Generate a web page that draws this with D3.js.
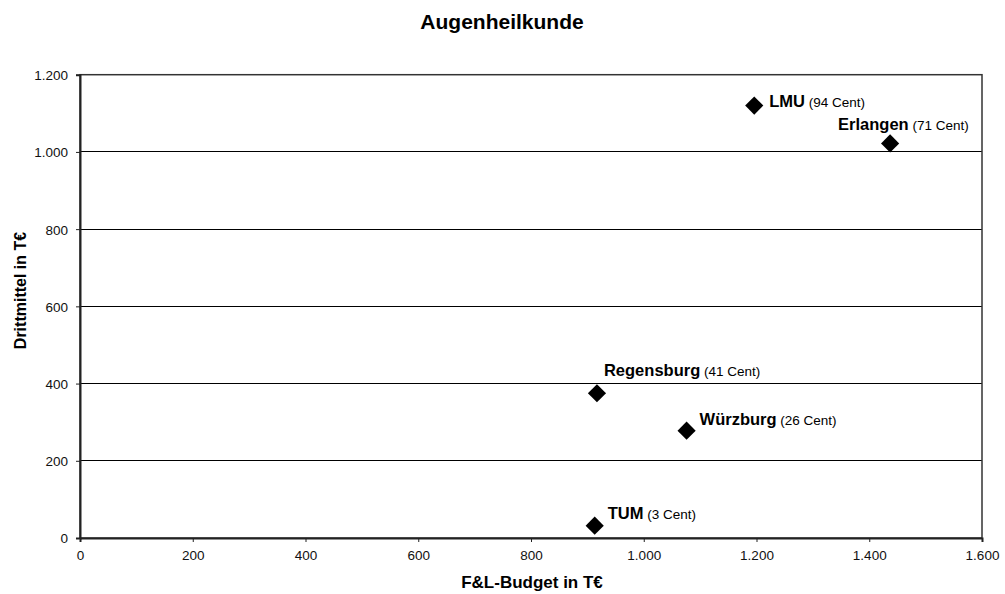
<!DOCTYPE html>
<html>
<head>
<meta charset="utf-8">
<script src="https://cdn.jsdelivr.net/npm/d3@7/dist/d3.min.js"></script>
<style>
  html, body { margin: 0; padding: 0; background: #fff; }
  svg { display: block; font-family: "Liberation Sans", Arial, sans-serif; }
</style>
</head>
<body>
<svg id="chart" width="1005" height="594"></svg>
<script>
// Universitätskliniken: F&L-Budget vs. Drittmittel (T€)
const sites      = ["LMU", "Erlangen", "Regensburg", "Würzburg", "TUM"];
const budget     = [1196, 1437, 917, 1076, 913];
const thirdParty = [1120, 1022, 375, 278, 32];
const cents      = [94, 71, 41, 26, 3];

const xTicks = [0, 200, 400, 600, 800, 1000, 1200, 1400, 1600];
const yTicks = [0, 200, 400, 600, 800, 1000, 1200];

// label placement relative to each marker (dx, dy of text baseline)
const labelOffset = [[15, 1], [-52, -13], [7, -17], [13, -6], [13, -7]];

const fmt = v => d3.format(",")(v).replace(/,/g, ".");

const svg = d3.select("#chart");
const m = { left: 80, right: 982, top: 74.7, bottom: 538 };

const x = d3.scaleLinear().domain([0, 1600]).range([m.left, m.right]);
const y = d3.scaleLinear().domain([0, 1200]).range([m.bottom, m.top]);

// gridlines
svg.append("g")
  .selectAll("line")
  .data(yTicks.filter(t => t > 0 && t < 1200))
  .join("line")
  .attr("x1", m.left).attr("x2", m.right)
  .attr("y1", d => y(d)).attr("y2", d => y(d))
  .attr("stroke", "#000").attr("stroke-width", 1).attr("shape-rendering", "crispEdges");

// plot frame
svg.append("rect")
  .attr("x", m.left).attr("y", m.top)
  .attr("width", m.right - m.left).attr("height", m.bottom - m.top)
  .attr("fill", "none").attr("stroke", "#333").attr("stroke-width", 1.5);

// axes
const xAxis = svg.append("g")
  .attr("transform", `translate(0,${m.bottom})`)
  .call(d3.axisBottom(x).tickValues(xTicks).tickFormat(fmt).tickSize(4).tickPadding(8));
const yAxis = svg.append("g")
  .attr("transform", `translate(${m.left},0)`)
  .call(d3.axisLeft(y).tickValues(yTicks).tickFormat(fmt).tickSize(4).tickPadding(8));

[xAxis, yAxis].forEach(a => {
  a.select(".domain").attr("stroke", "#222").attr("stroke-width", 2);
  a.selectAll(".tick line").attr("stroke", "#222");
  a.selectAll(".tick text")
    .attr("font-family", "Liberation Sans, Arial, sans-serif")
    .attr("font-size", 13.5).attr("fill", "#111");
});
yAxis.selectAll(".tick text").attr("dy", "0.36em");

// markers: square diamonds
const pts = sites.map((s, i) => ({ s, bx: budget[i], ty: thirdParty[i], c: cents[i], off: labelOffset[i] }));

svg.append("g")
  .selectAll("path")
  .data(pts)
  .join("path")
  .attr("d", d3.symbol().type(d3.symbolSquare).size(165))
  .attr("transform", d => `translate(${x(d.bx)},${y(d.ty)}) rotate(45)`)
  .attr("fill", "#000");

// labels
const lbl = svg.append("g")
  .selectAll("text")
  .data(pts)
  .join("text")
  .attr("x", d => x(d.bx) + d.off[0])
  .attr("y", d => y(d.ty) + d.off[1])
  .attr("fill", "#000");
lbl.append("tspan").attr("font-weight", "bold").attr("font-size", 16.5).text(d => d.s);
lbl.append("tspan").attr("font-size", 13.5).text(d => ` (${d.c} Cent)`);

// titles
svg.append("text")
  .attr("x", 502).attr("y", 29)
  .attr("text-anchor", "middle")
  .attr("font-weight", "bold").attr("font-size", 21)
  .text("Augenheilkunde");

svg.append("text")
  .attr("x", 532).attr("y", 588)
  .attr("text-anchor", "middle")
  .attr("font-weight", "bold").attr("font-size", 17)
  .text("F&L-Budget in T€");

svg.append("text")
  .attr("transform", "translate(26,290.5) rotate(-90)")
  .attr("text-anchor", "middle")
  .attr("font-weight", "bold").attr("font-size", 16)
  .text("Drittmittel in T€");
</script>
</body>
</html>
